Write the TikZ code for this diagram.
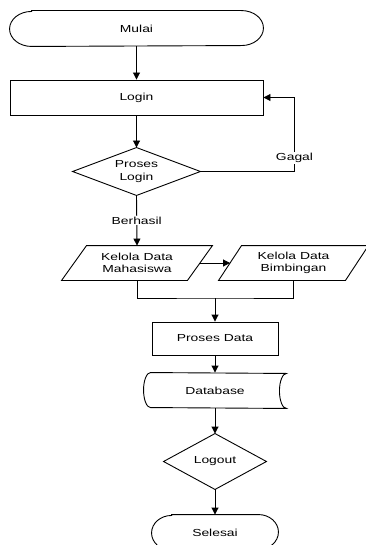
\documentclass[tikz,border=0pt]{standalone}
\usepackage{fontspec}
\setmainfont{Liberation Sans}[FakeStretch=1.36]
\usetikzlibrary{arrows.meta,calc}
\begin{document}
\begin{tikzpicture}[x=1pt,y=-1pt,
  line width=0.9pt,
  every node/.style={font=\fontsize{10.2pt}{12.3pt}\selectfont},
  box/.style={draw, rectangle, inner sep=0pt, align=center},
  hold/.style={rectangle, inner sep=0pt, align=center},
  lbl/.style={fill=white, inner sep=1pt},
  arr/.style={-{Triangle[length=7pt,width=7pt]}}]
\useasboundingbox (0,0) rectangle (366,545);

% start terminal
\node[hold, minimum width=253pt, minimum height=35pt] (mulai) at (136.5,28.5) {Mulai};
\draw ([xshift=22pt]mulai.north west) -- ([xshift=-22pt]mulai.north east)
  arc[start angle=90, end angle=-90, x radius=22pt, y radius=17.5pt]
  -- ([xshift=22pt]mulai.south west)
  arc[start angle=270, end angle=90, x radius=22pt, y radius=17.5pt] -- cycle;

% login process
\node[box, minimum width=253pt, minimum height=35pt] (login) at (136.5,97.5) {Login};

% login decision
\node[hold, minimum width=127pt, minimum height=47pt] (proses) at (136.5,171.5) {Proses\\Login};
\draw (proses.north) -- (proses.east) -- (proses.south) -- (proses.west) -- cycle;

% data input parallelograms
\node[hold, minimum width=125pt, minimum height=34pt] (mhs) at (137,263) {Kelola Data\\Mahasiswa};
\draw ([xshift=12.5pt]mhs.north west) -- ([xshift=12.5pt]mhs.north east)
  -- ([xshift=-12.5pt]mhs.south east) -- ([xshift=-12.5pt]mhs.south west) -- cycle;

\node[hold, minimum width=126pt, minimum height=34pt] (bmb) at (293.5,263) {Kelola Data\\Bimbingan};
\draw ([xshift=11.5pt]bmb.north west) -- ([xshift=11.5pt]bmb.north east)
  -- ([xshift=-11.5pt]bmb.south east) -- ([xshift=-11.5pt]bmb.south west) -- cycle;

% processing
\node[box, minimum width=126pt, minimum height=33pt] (pdata) at (215,338.5) {Proses Data};

% stored data
\node[hold, minimum width=142pt, minimum height=35pt] (db) at (215,390.5) {Database};
\draw ([xshift=7pt]db.north west)
  arc[start angle=90, end angle=270, x radius=7pt, y radius=17.5pt]
  -- (db.south east)
  arc[start angle=270, end angle=90, x radius=7pt, y radius=17.5pt] -- cycle;

% logout decision
\node[hold, minimum width=102pt, minimum height=55pt] (logout) at (215,461.5) {Logout};
\draw (logout.north) -- (logout.east) -- (logout.south) -- (logout.west) -- cycle;

% end terminal
\node[hold, minimum width=126pt, minimum height=35pt] (selesai) at (215,532.5) {Selesai};
\draw ([xshift=20pt]selesai.north west) -- ([xshift=-20pt]selesai.north east)
  arc[start angle=90, end angle=-90, x radius=20pt, y radius=17.5pt]
  -- ([xshift=20pt]selesai.south west)
  arc[start angle=270, end angle=90, x radius=20pt, y radius=17.5pt] -- cycle;

% connectors
\coordinate (join) at (215,298);
\draw[arr] (mulai.south) -- (login.north);
\draw[arr] (login.south) -- (proses.north);
\draw[arr] (proses.east) -- ++(94pt,0) |- (login.east);
\node[lbl] (gagal) at (294.5,158) {Gagal};
\draw[arr] (proses.south) -- (mhs.north) node[lbl, midway] (berhasil) {Berhasil};
\draw[arr] (mhs.east) -- (bmb.west);
\draw (mhs.south) |- (join) -| (bmb.south);
\draw[arr] (join) -- (pdata.north);
\draw[arr] (pdata.south) -- (db.north);
\draw[arr] (db.south) -- (logout.north);
\draw[arr] (logout.south) -- (selesai.north);
\end{tikzpicture}
\end{document}
